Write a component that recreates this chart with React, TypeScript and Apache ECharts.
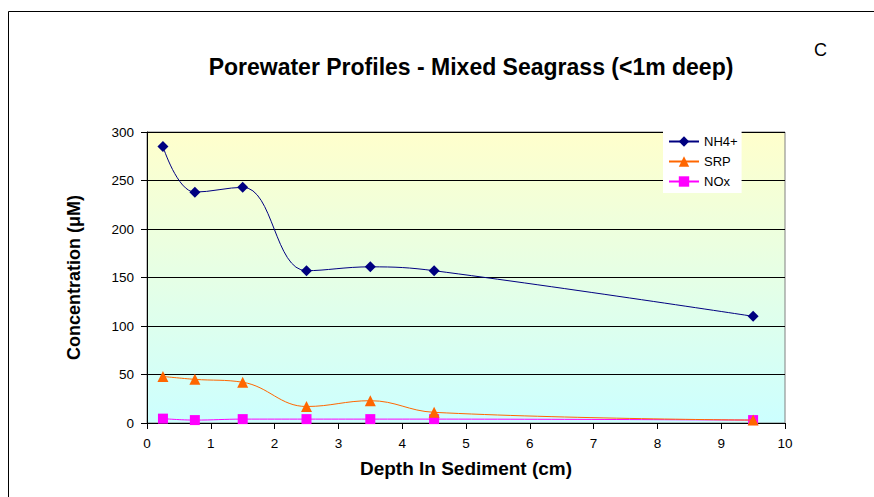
import React, { useEffect, useRef } from "react";
import * as echarts from "echarts";

const depths = [0.25, 0.75, 1.5, 2.5, 3.5, 4.5, 9.5];
const nh4 = [285, 238, 243, 157, 161, 157, 110];
const srp = [48, 45, 42, 17, 23, 11, 3];
const nox = [4.5, 3, 4, 4, 4, 4, 3];
const xTicks = [0, 1, 2, 3, 4, 5, 6, 7, 8, 9, 10];
const yTicks = [0, 50, 100, 150, 200, 250, 300];

const FONT = "Liberation Sans, Arial, sans-serif";

export default function App() {
  const ref = useRef<HTMLDivElement>(null);
  useEffect(() => {
    document.body.style.margin = "0";
    const chart = echarts.init(ref.current!, null, { renderer: "svg" });
    const pair = (ys: number[]) => depths.map((d, i) => [d, ys[i]]);
    chart.setOption({
      animation: false,
      backgroundColor: "#ffffff",
      textStyle: { fontFamily: FONT },
      title: [
        {
          text: "Porewater Profiles - Mixed Seagrass (<1m deep)",
          left: 466,
          top: 50,
          textAlign: "center",
          textStyle: { fontSize: 23, fontWeight: "bold", color: "#000", fontFamily: FONT },
        },
        {
          text: "C",
          left: 809,
          top: 36,
          textStyle: { fontSize: 18, fontWeight: "normal", color: "#000", fontFamily: FONT },
        },
      ],
      graphic: [
        {
          type: "rect",
          shape: { x: 8.5, y: 11.5, width: 1000, height: 1000 },
          style: { fill: "none", stroke: "#000", lineWidth: 1 },
          silent: true,
        },
      ],
      legend: {
        orient: "vertical",
        left: 663,
        top: 131,
        backgroundColor: "#ffffff",
        padding: [4, 4, 5, 5],
        itemGap: 7,
        itemWidth: 30,
        itemHeight: 13,
        textStyle: { fontSize: 13, color: "#000", fontFamily: FONT },
        data: ["NH4+", "SRP", "NOx"],
      },
      grid: {
        left: 147,
        right: 89,
        top: 132,
        bottom: 74,
        show: true,
        borderColor: "#808080",
        borderWidth: 1,
        backgroundColor: new echarts.graphic.LinearGradient(0, 0, 0, 1, [
          { offset: 0, color: "#ffffcc" },
          { offset: 1, color: "#ccffff" },
        ]),
      },
      xAxis: {
        type: "value",
        min: xTicks[0],
        max: xTicks[xTicks.length - 1],
        interval: 1,
        name: "Depth In Sediment (cm)",
        nameLocation: "middle",
        nameGap: 36,
        nameTextStyle: { fontSize: 19, fontWeight: "bold", color: "#000", fontFamily: FONT },
        axisLine: { show: true, onZero: false, lineStyle: { color: "#000", width: 1 } },
        axisTick: { show: true, length: 6, lineStyle: { color: "#000" } },
        axisLabel: { fontSize: 13.5, color: "#000", margin: 13, fontFamily: FONT },
        splitLine: { show: false },
      },
      yAxis: {
        type: "value",
        min: yTicks[0],
        max: yTicks[yTicks.length - 1],
        interval: 50,
        name: "Concentration (\u03bcM)",
        nameLocation: "middle",
        nameGap: 64,
        nameTextStyle: { fontSize: 18, fontWeight: "bold", color: "#000", fontFamily: FONT },
        axisLine: { show: true, lineStyle: { color: "#000", width: 1 } },
        axisTick: { show: true, length: 6, lineStyle: { color: "#000" } },
        axisLabel: { fontSize: 13.5, color: "#000", margin: 13, fontFamily: FONT },
        splitLine: { show: true, lineStyle: { color: "#000", width: 1 } },
      },
      series: [
        {
          name: "NH4+",
          type: "line",
          data: pair(nh4),
          smooth: 0.4,
          symbol: "diamond",
          symbolSize: 11,
          itemStyle: { color: "#000080" },
          lineStyle: { color: "#000080", width: 1 },
          z: 3,
        },
        {
          name: "SRP",
          type: "line",
          data: pair(srp),
          smooth: 0.4,
          symbol: "triangle",
          symbolSize: 11,
          itemStyle: { color: "#ff6600" },
          lineStyle: { color: "#ff6600", width: 1 },
          z: 2,
        },
        {
          name: "NOx",
          type: "line",
          data: pair(nox),
          smooth: 0.4,
          symbol: "rect",
          symbolSize: 10,
          itemStyle: { color: "#ff00ff" },
          lineStyle: { color: "#ff00ff", width: 1 },
          z: 1,
        },
      ],
    });
    return () => chart.dispose();
  }, []);
  return <div ref={ref} style={{ width: 874, height: 497 }} />;
}
